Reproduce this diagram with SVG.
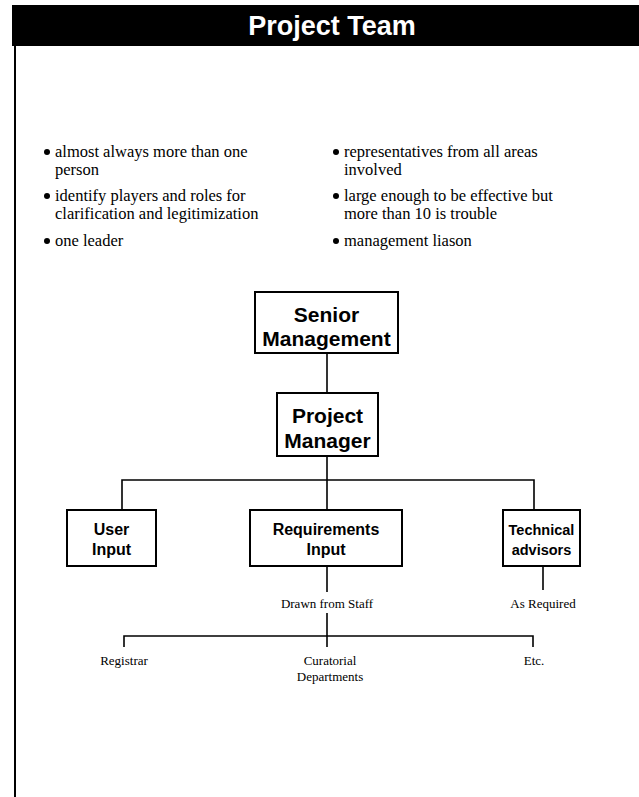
<svg xmlns="http://www.w3.org/2000/svg" width="639" height="797" viewBox="0 0 639 797">
<style>
.title{font-family:"Liberation Sans",Arial,sans-serif;font-weight:bold;font-size:27px;fill:#fff;text-anchor:middle}
.bul{font-family:"Liberation Serif","Times New Roman",serif;font-size:16.5px;fill:#000}
.node rect{fill:#fff;stroke:#000;stroke-width:2}
.nt{font-family:"Liberation Sans",Arial,sans-serif;font-weight:bold;fill:#000;text-anchor:middle}
.big{font-size:21px}
.small{font-size:16px}
.tiny{font-size:14.5px}
.lbl{font-family:"Liberation Serif","Times New Roman",serif;font-size:13px;fill:#000;text-anchor:middle}
.conn line,.conn path{stroke:#000;stroke-width:1.6;fill:none}
</style>
<rect x="0" y="0" width="639" height="797" fill="#fff"/>
<g id="header">
<rect x="12" y="5" width="627" height="41" fill="#000"/>
<text class="title" x="332" y="35">Project Team</text>
</g>
<line x1="15" y1="46" x2="15" y2="797" stroke="#000" stroke-width="2"/>
<g id="bullets">
<circle cx="47" cy="152" r="3"/>
<text class="bul" x="55" y="157">almost always more than one</text>
<text class="bul" x="55" y="175">person</text>
<circle cx="47" cy="196" r="3"/>
<text class="bul" x="55" y="201">identify players and roles  for</text>
<text class="bul" x="55" y="219">clarification and legitimization</text>
<circle cx="47" cy="241" r="3"/>
<text class="bul" x="55" y="246">one leader</text>
<circle cx="336" cy="152" r="3"/>
<text class="bul" x="344" y="157">representatives from all areas</text>
<text class="bul" x="344" y="175">involved</text>
<circle cx="336" cy="196" r="3"/>
<text class="bul" x="344" y="201">large enough to be effective but</text>
<text class="bul" x="344" y="219">more than 10 is trouble</text>
<circle cx="336" cy="241" r="3"/>
<text class="bul" x="344" y="246">management liason</text>
</g>
<g class="conn" id="connectors">
<line x1="327" y1="353" x2="327" y2="393"/>
<line x1="327" y1="456" x2="327" y2="510"/>
<path d="M122 510 V480 H534 V510"/>
<line x1="327" y1="566" x2="327" y2="592"/>
<line x1="543" y1="566" x2="543" y2="590"/>
<line x1="327" y1="613" x2="327" y2="647"/>
<path d="M124 647 V636 H533 V647"/>
</g>
<g id="senior" class="node">
<rect x="255" y="292" width="143" height="61"/>
<text class="nt big" x="326.5" y="322">Senior</text>
<text class="nt big" x="326.5" y="346">Management</text>
</g>
<g id="pm" class="node">
<rect x="277" y="393" width="101" height="63"/>
<text class="nt big" x="327.5" y="423">Project</text>
<text class="nt big" x="327.5" y="448">Manager</text>
</g>
<g id="user" class="node">
<rect x="67" y="510" width="89" height="56"/>
<text class="nt small" x="111.5" y="535">User</text>
<text class="nt small" x="111.5" y="555">Input</text>
</g>
<g id="req" class="node">
<rect x="250" y="510" width="152" height="56"/>
<text class="nt small" x="326" y="535">Requirements</text>
<text class="nt small" x="326" y="555">Input</text>
</g>
<g id="tech" class="node">
<rect x="503" y="510" width="77" height="56"/>
<text class="nt tiny" x="541.5" y="535">Technical</text>
<text class="nt tiny" x="541.5" y="555">advisors</text>
</g>
<g id="labels">
<text class="lbl" x="327" y="608">Drawn from Staff</text>
<text class="lbl" x="543" y="608">As Required</text>
<text class="lbl" x="124" y="665">Registrar</text>
<text class="lbl" x="330" y="665">Curatorial</text>
<text class="lbl" x="330" y="681">Departments</text>
<text class="lbl" x="534" y="665">Etc.</text>
</g>
</svg>
